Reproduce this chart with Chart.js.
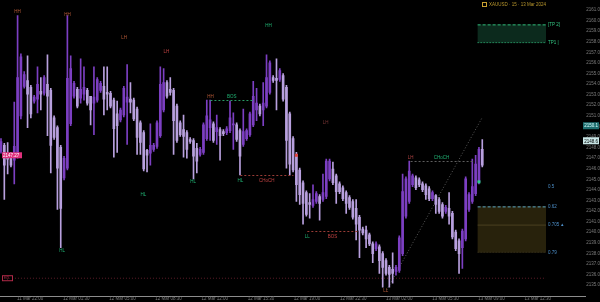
<!DOCTYPE html>
<html>
<head>
<meta charset="utf-8">
<script src="https://cdn.jsdelivr.net/npm/chart.js@4"></script>
<style>
  html, body { margin: 0; padding: 0; background: #000; }
  canvas { display: block; background: #000; }
</style>
</head>
<body>
<canvas id="chart" width="600" height="302"></canvas>
<script>
// candles, oldest first
const openP = [
  2147.64, 2148.20, 2147.09, 2147.36, 2146.81, 2147.27, 2150.99, 2153.78, 2154.34, 2153.69,
  2152.39, 2152.57, 2153.32, 2153.13, 2153.97, 2153.41, 2150.81, 2149.88, 2148.02, 2145.13,
  2146.06, 2150.25, 2152.85, 2153.50, 2152.67, 2153.04, 2153.41, 2152.85, 2152.20, 2152.48,
  2153.41, 2153.78, 2153.22, 2153.13, 2152.48, 2151.18, 2150.62, 2151.08, 2152.29, 2152.57,
  2152.48, 2151.64, 2150.34, 2149.41, 2147.74, 2147.46, 2147.83, 2148.11, 2149.13, 2151.55,
  2154.15, 2153.50, 2153.41, 2151.92, 2150.34, 2149.69, 2149.41, 2148.76, 2148.67, 2147.92,
  2147.36, 2147.55, 2148.85, 2149.88, 2150.25, 2149.50, 2149.69, 2149.50, 2149.41, 2149.60,
  2150.15, 2150.15, 2149.60, 2148.29, 2148.85, 2149.22, 2150.15, 2151.55, 2151.92, 2151.55,
  2151.92, 2153.22, 2154.62, 2154.53, 2154.43, 2154.80, 2153.69, 2151.18, 2148.85, 2147.36,
  2145.88, 2144.67, 2143.74, 2142.81, 2142.53, 2142.90, 2143.37, 2143.09, 2143.37, 2145.04,
  2145.97, 2145.32, 2144.57, 2144.20, 2143.74, 2143.27, 2142.90, 2142.25, 2141.41, 2140.30,
  2140.20, 2139.74, 2138.90, 2138.44, 2138.62, 2137.97, 2137.32, 2136.67, 2136.48, 2136.30,
  2136.39, 2137.97, 2141.51, 2142.90, 2144.48, 2145.13, 2144.95, 2144.57, 2144.39, 2144.11,
  2143.18, 2143.46, 2143.09, 2142.62, 2141.97, 2142.25, 2141.78, 2140.02, 2139.18, 2138.53,
  2139.37, 2142.16, 2142.90, 2143.64, 2144.76, 2147.83
]
const highP = [
  2148.85, 2148.39, 2148.48, 2147.55, 2152.29, 2160.48, 2156.85, 2155.18, 2156.66, 2153.87,
  2152.94, 2155.64, 2154.62, 2154.80, 2156.76, 2153.60, 2150.99, 2150.06, 2148.20, 2147.18,
  2160.48, 2156.66, 2154.25, 2153.69, 2156.39, 2155.64, 2153.60, 2152.85, 2155.64, 2154.62,
  2154.25, 2155.64, 2155.64, 2153.32, 2152.67, 2152.39, 2151.74, 2153.78, 2155.83, 2154.15,
  2152.67, 2151.83, 2150.53, 2149.60, 2147.83, 2150.25, 2148.39, 2150.53, 2155.64, 2155.46,
  2154.34, 2154.62, 2153.60, 2152.11, 2150.53, 2151.08, 2149.60, 2148.95, 2148.85, 2148.39,
  2148.02, 2150.34, 2152.48, 2152.48, 2150.43, 2151.08, 2149.88, 2149.69, 2149.97, 2152.39,
  2151.27, 2150.34, 2149.78, 2151.64, 2149.78, 2151.36, 2154.25, 2153.60, 2152.11, 2154.15,
  2156.76, 2156.20, 2154.80, 2156.39, 2155.46, 2154.99, 2153.87, 2151.36, 2149.04, 2147.55,
  2146.06, 2144.85, 2143.92, 2143.64, 2144.48, 2143.83, 2143.55, 2145.50, 2146.90, 2146.90,
  2146.62, 2145.50, 2144.76, 2144.39, 2143.92, 2143.46, 2143.09, 2143.09, 2141.60, 2140.48,
  2140.58, 2139.92, 2139.09, 2139.09, 2138.81, 2138.16, 2137.51, 2136.86, 2138.06, 2136.86,
  2139.65, 2145.50, 2145.23, 2146.71, 2145.50, 2145.32, 2145.13, 2144.76, 2144.57, 2144.30,
  2143.92, 2143.55, 2143.27, 2142.81, 2142.53, 2143.74, 2141.97, 2140.20, 2139.37, 2140.30,
  2145.23, 2143.74, 2146.90, 2147.27, 2148.02, 2148.76
]
const lowP = [
  2147.46, 2143.09, 2145.50, 2146.16, 2144.57, 2146.99, 2150.71, 2153.60, 2149.88, 2150.81,
  2152.20, 2151.27, 2151.55, 2152.94, 2149.13, 2145.60, 2148.76, 2142.16, 2138.53, 2144.95,
  2145.88, 2150.06, 2152.67, 2151.74, 2152.20, 2152.48, 2152.01, 2150.15, 2149.22, 2152.29,
  2153.22, 2151.08, 2151.55, 2151.74, 2147.09, 2147.55, 2150.43, 2150.90, 2148.29, 2151.27,
  2150.53, 2147.36, 2147.36, 2145.78, 2145.69, 2146.34, 2147.64, 2147.92, 2148.95, 2151.36,
  2152.67, 2152.94, 2147.36, 2148.48, 2149.04, 2147.09, 2146.99, 2148.39, 2145.04, 2145.60,
  2147.18, 2147.36, 2148.67, 2148.67, 2148.48, 2148.29, 2146.81, 2149.13, 2149.22, 2149.41,
  2147.83, 2148.57, 2145.41, 2148.11, 2148.67, 2149.04, 2149.97, 2150.53, 2150.99, 2150.06,
  2151.74, 2153.04, 2154.15, 2151.55, 2154.25, 2152.39, 2146.06, 2145.41, 2145.69, 2142.90,
  2142.62, 2140.76, 2141.51, 2141.32, 2142.34, 2142.71, 2141.13, 2142.90, 2143.18, 2144.85,
  2144.48, 2142.71, 2143.64, 2142.99, 2141.78, 2142.16, 2141.23, 2139.27, 2137.60, 2139.74,
  2138.53, 2138.72, 2137.13, 2138.25, 2136.11, 2134.81, 2135.93, 2134.81, 2135.18, 2135.93,
  2136.20, 2137.79, 2141.32, 2142.71, 2144.30, 2144.02, 2144.30, 2143.83, 2143.09, 2142.99,
  2142.99, 2141.78, 2141.78, 2141.32, 2141.78, 2140.76, 2139.37, 2138.25, 2136.11, 2136.58,
  2139.18, 2141.97, 2142.71, 2143.46, 2144.57, 2146.16
]
const closeP = [
  2148.57, 2146.34, 2146.90, 2146.34, 2148.11, 2154.62, 2156.57, 2154.90, 2153.04, 2151.18,
  2152.76, 2153.97, 2153.04, 2154.62, 2152.85, 2148.20, 2148.95, 2146.06, 2142.25, 2146.99,
  2154.53, 2155.46, 2154.06, 2151.92, 2153.50, 2153.69, 2152.20, 2151.55, 2152.76, 2154.43,
  2154.06, 2152.57, 2153.04, 2151.92, 2149.78, 2150.06, 2151.55, 2153.60, 2152.76, 2152.29,
  2150.71, 2148.95, 2148.48, 2145.97, 2147.27, 2148.20, 2148.20, 2150.34, 2153.97, 2154.15,
  2152.85, 2153.22, 2150.53, 2148.67, 2149.22, 2149.04, 2147.83, 2148.57, 2147.18, 2146.71,
  2147.83, 2150.15, 2150.99, 2150.62, 2148.67, 2149.88, 2149.13, 2149.32, 2149.78, 2150.81,
  2150.25, 2148.76, 2147.18, 2149.50, 2149.60, 2151.18, 2152.85, 2152.20, 2151.18, 2152.20,
  2154.62, 2156.01, 2154.34, 2154.34, 2155.27, 2152.57, 2148.67, 2146.43, 2145.88, 2144.48,
  2143.55, 2142.71, 2141.69, 2142.62, 2143.09, 2143.64, 2142.71, 2143.74, 2146.71, 2146.71,
  2144.67, 2143.83, 2143.83, 2143.18, 2142.71, 2142.34, 2141.41, 2140.76, 2140.20, 2139.92,
  2139.37, 2138.90, 2137.97, 2138.90, 2137.32, 2136.67, 2136.11, 2136.02, 2136.11, 2136.67,
  2139.46, 2143.83, 2145.04, 2145.78, 2145.32, 2144.20, 2144.48, 2144.02, 2143.55, 2143.18,
  2143.74, 2142.62, 2141.97, 2141.51, 2142.34, 2141.51, 2139.55, 2138.44, 2137.97, 2140.11,
  2145.04, 2143.55, 2144.30, 2146.43, 2147.83, 2146.34
]

// time axis (bar index of each label)
const xTickPos = [8.8, 22.7, 36.6, 50.5, 64.4, 78.3, 92.2, 106.1, 120.0, 133.9, 147.8, 161.7]
const xTickLabels = [
  "11 Mar 22:00", "12 Mar 01:30", "12 Mar 05:00", "12 Mar 08:30", "12 Mar 12:00", "12 Mar 15:30",
  "12 Mar 19:00", "12 Mar 22:30", "13 Mar 02:00", "13 Mar 05:30", "13 Mar 09:00", "13 Mar 12:30",
]
const priceTicksLow = 2135
const priceTicksHigh = 2161

// market structure labels: [bar, price, text, kind]
const swingLabels = [
  [5, 2160.85, "HH", "swing"],
  [20, 2160.57, "HH", "swing"],
  [37.1, 2158.34, "LH", "swing"],
  [49.8, 2157.04, "LH", "bear"],
  [18.4, 2138.25, "HL", "bull"],
  [42.9, 2143.55, "HL", "bull"],
  [80.6, 2159.55, "HH", "bull"],
  [57.9, 2144.76, "HL", "bull"],
  [97.8, 2150.34, "LH", "dim"],
  [115.9, 2134.44, "LL", "swing"],
]
// broken levels: [fromBar, toBar, price, kind, leftText, midText]
const levelLines = [
  [63.1, 76.0, 2152.48, "bull", "HH", "BOS"],
  [72.1, 88.1, 2145.41, "bear", "HL", "CHoCH"],
  [92.3, 107.4, 2140.11, "bear", "LL", "BOS"],
  [123.4, 142.1, 2146.71, "flat", "LH", "CHoCH"],
]
const liquidityPrice = 2135.65
const liquidityFrom = 3.3
const sidePrice = 2147.27
// zones: [fromBar, top, bottom]
const targetZone = [143.6, 2159.64, 2157.87]
const targetLabels = ["[TP 2]", "TP1 |"]
const oteZone = [143.6, 2142.44, 2138.06, 2140.67]
const fibPrices = [2144.30, 2142.44, 2140.67, 2138.06]
const fibLabels = ["0.5", "0.62", "0.705 ▴", "0.79"]
const trendFrom = [116.2, 2134.53]
const trendTo = [145.0, 2150.85]
const signalMarks = [[89, 2147.27, "bear"], [144, 2144.76, "bull"]]
const lastPrices = [2150.06, 2148.64]

const UP = "#7c3fc2"
const DOWN = "#b8a0de"
const FONT = "Liberation Sans"
const textColor = { swing: "#b85a38", bear: "#c04242", bull: "#20b474", dim: "#7a3636", flat: "#b44444" }
const lineColor = { bull: "#289a64", bear: "#9a3c36", flat: "#5e5e5e" }

const bars = openP.map((_, i) => i)
const candleColor = (ctx) => (closeP[ctx.dataIndex] >= openP[ctx.dataIndex] ? UP : DOWN)

const overlay = {
    id: "overlay",
    beforeDatasetsDraw(chart) {
        const { ctx, chartArea } = chart
        const xs = chart.scales.x
        const ys = chart.scales.y
        ctx.save()
        // target zone
        let l = xs.getPixelForValue(targetZone[0])
        let t = ys.getPixelForValue(targetZone[1])
        let b = ys.getPixelForValue(targetZone[2])
        ctx.fillStyle = "#0c2a1d"
        ctx.fillRect(l, t, chartArea.right - l, b - t)
        ctx.lineWidth = 1
        ctx.strokeStyle = "#2fb878"
        ctx.setLineDash([3, 2])
        ctx.beginPath(); ctx.moveTo(l, t + 0.5); ctx.lineTo(chartArea.right, t + 0.5); ctx.stroke()
        ctx.setLineDash([1, 2])
        ctx.beginPath(); ctx.moveTo(l, b - 0.5); ctx.lineTo(chartArea.right, b - 0.5); ctx.stroke()
        // OTE zone
        l = xs.getPixelForValue(oteZone[0])
        t = ys.getPixelForValue(oteZone[1])
        b = ys.getPixelForValue(oteZone[2])
        const m = ys.getPixelForValue(oteZone[3])
        ctx.fillStyle = "#28220c"
        ctx.fillRect(l, t, chartArea.right - l, b - t)
        ctx.strokeStyle = "#5aa6c4"
        ctx.setLineDash([3, 2])
        ctx.beginPath(); ctx.moveTo(l, t + 0.5); ctx.lineTo(chartArea.right, t + 0.5); ctx.stroke()
        ctx.setLineDash([])
        ctx.strokeStyle = "#4a4020"
        ctx.beginPath(); ctx.moveTo(l, m); ctx.lineTo(chartArea.right, m); ctx.stroke()
        ctx.strokeStyle = "#3a3424"
        ctx.setLineDash([1, 2])
        ctx.beginPath(); ctx.moveTo(l, b - 0.5); ctx.lineTo(chartArea.right, b - 0.5); ctx.stroke()
        // liquidity line
        const ly = ys.getPixelForValue(liquidityPrice)
        ctx.strokeStyle = "#5c1c28"
        ctx.beginPath(); ctx.moveTo(xs.getPixelForValue(liquidityFrom), ly); ctx.lineTo(chartArea.right, ly); ctx.stroke()
        // trend line
        ctx.strokeStyle = "#5a5a5a"
        ctx.setLineDash([1, 2])
        ctx.beginPath()
        ctx.moveTo(xs.getPixelForValue(trendFrom[0]), ys.getPixelForValue(trendFrom[1]))
        ctx.lineTo(xs.getPixelForValue(trendTo[0]), ys.getPixelForValue(trendTo[1]))
        ctx.stroke()
        ctx.restore()
    },
    afterDatasetsDraw(chart) {
        const { ctx, chartArea } = chart
        const xs = chart.scales.x
        const ys = chart.scales.y
        ctx.save()
        ctx.font = `4.5px "${FONT}"`
        ctx.textBaseline = "middle"
        ctx.textAlign = "center"
        swingLabels.forEach(([bar, price, text, kind]) => {
            ctx.fillStyle = textColor[kind]
            ctx.fillText(text, xs.getPixelForValue(bar), ys.getPixelForValue(price))
        })
        levelLines.forEach(([from, to, price, kind, left, mid]) => {
            const x0 = xs.getPixelForValue(from)
            const x1 = xs.getPixelForValue(to)
            const y = Math.round(ys.getPixelForValue(price)) + 0.5
            ctx.strokeStyle = lineColor[kind]
            ctx.lineWidth = 1
            ctx.setLineDash([2, 2])
            ctx.beginPath(); ctx.moveTo(x0, y); ctx.lineTo(x1, y); ctx.stroke()
            const below = kind === "bull" || kind === "flat" ? -4 : 5
            ctx.fillStyle = kind === "bull" ? textColor.swing : (kind === "flat" ? textColor.flat : textColor.bull)
            ctx.fillText(left, x0, y + below)
            ctx.fillStyle = kind === "bear" ? textColor.bear : textColor.bull
            ctx.fillText(mid, (x0 + x1) / 2, y + below)
        })
        ctx.setLineDash([])
        signalMarks.forEach(([bar, price, kind]) => {
            ctx.fillStyle = kind === "bull" ? "#2ad08a" : "#e0403a"
            ctx.fillRect(xs.getPixelForValue(bar) - 1.5, ys.getPixelForValue(price) - 1.5, 3, 3)
        })
        // zone labels
        ctx.textAlign = "left"
        ctx.fillStyle = "#34c884"
        ctx.fillText(targetLabels[0], chartArea.right + 2, ys.getPixelForValue(targetZone[1]))
        ctx.fillText(targetLabels[1], chartArea.right + 2, ys.getPixelForValue(targetZone[2]))
        ctx.fillStyle = "#4c8ec8"
        fibPrices.forEach((p, i) => ctx.fillText(fibLabels[i], chartArea.right + 2, ys.getPixelForValue(p)))
        // side labels
        const sy = ys.getPixelForValue(sidePrice)
        ctx.fillStyle = "#e0307c"
        ctx.fillRect(chartArea.left + 2, sy - 3, 20, 6)
        ctx.fillStyle = "#ffffff"
        ctx.fillText(sidePrice.toFixed(2), chartArea.left + 3, sy + 0.5)
        const ly = ys.getPixelForValue(liquidityPrice)
        ctx.strokeStyle = "#b02a48"
        ctx.strokeRect(chartArea.left + 2.5, ly - 2.5, 10, 5)
        ctx.fillStyle = "#b02a48"
        ctx.font = `3px "${FONT}"`
        ctx.fillText("EQL", chartArea.left + 4, ly)
        ctx.restore()
    },
    afterDraw(chart) {
        const { ctx, chartArea } = chart
        const ys = chart.scales.y
        ctx.save()
        // axis line runs under the price scale
        ctx.strokeStyle = "#8c8c8c"
        ctx.beginPath(); ctx.moveTo(chartArea.right, chartArea.bottom + 0.5); ctx.lineTo(chartArea.right + 40, chartArea.bottom + 0.5); ctx.stroke()
        // last price boxes
        ctx.font = `4.5px "${FONT}"`
        ctx.textBaseline = "middle"
        ctx.textAlign = "right"
        lastPrices.forEach((p, i) => {
            const y = ys.getPixelForValue(p)
            ctx.fillStyle = i === 0 ? "#1f6f70" : "#c9e6e6"
            ctx.fillRect(ys.right - 17, y - 3.5, 16, 7)
            ctx.fillStyle = i === 0 ? "#d8ffff" : "#000000"
            ctx.fillText(p.toFixed(1), ys.right - 2, y + 0.5)
        })
        // title
        ctx.textAlign = "left"
        ctx.strokeStyle = "#c8a030"
        ctx.strokeRect(chartArea.right - 63.5, 2.5, 4, 4)
        ctx.fillStyle = "#b8962c"
        ctx.fillText("XAUUSD · 15 · 13 Mar 2024", chartArea.right - 57, 5)
        ctx.restore()
    },
}

new Chart(document.getElementById("chart"), {
    type: "bar",
    data: {
        datasets: [
            {
                label: "wick",
                data: bars.map((i) => ({ x: i, y: [lowP[i], highP[i]] })),
                backgroundColor: candleColor,
                barThickness: 1,
                grouped: false,
                order: 2,
            },
            {
                label: "body",
                data: bars.map((i) => ({ x: i, y: [openP[i], closeP[i]] })),
                backgroundColor: candleColor,
                barThickness: 2,
                minBarLength: 1,
                grouped: false,
                order: 1,
            },
        ],
    },
    options: {
        responsive: false,
        animation: false,
        devicePixelRatio: 1,
        layout: { padding: 0 },
        plugins: {
            legend: { display: false },
            tooltip: { enabled: false },
        },
        scales: {
            x: {
                type: "linear",
                min: -0.3,
                max: 164.2,
                offset: false,
                grid: { display: false, drawTicks: false },
                border: { color: "#8c8c8c" },
                afterBuildTicks: (scale) => {
                    scale.ticks = xTickPos.map((v) => ({ value: v }))
                },
                afterFit: (scale) => {
                    scale.height = 6
                },
                ticks: {
                    autoSkip: false,
                    maxRotation: 0,
                    padding: 0,
                    color: "#7c7c7c",
                    font: { family: FONT, size: 4.5 },
                    callback: (value, index) => xTickLabels[index],
                },
            },
            y: {
                position: "right",
                min: 2133.97,
                max: 2161.5,
                grid: { display: false, drawTicks: false },
                border: { display: false },
                afterBuildTicks: (scale) => {
                    scale.ticks = scale.ticks.filter((t) => t.value >= priceTicksLow && t.value <= priceTicksHigh)
                },
                afterFit: (scale) => {
                    scale.width = 54
                },
                ticks: {
                    stepSize: 1,
                    includeBounds: false,
                    crossAlign: "far",
                    padding: 2,
                    color: "#7c7c7c",
                    font: { family: FONT, size: 4.5 },
                    callback: (value) => value.toFixed(1),
                },
            },
        },
    },
    plugins: [overlay],
})
</script>
</body>
</html>
